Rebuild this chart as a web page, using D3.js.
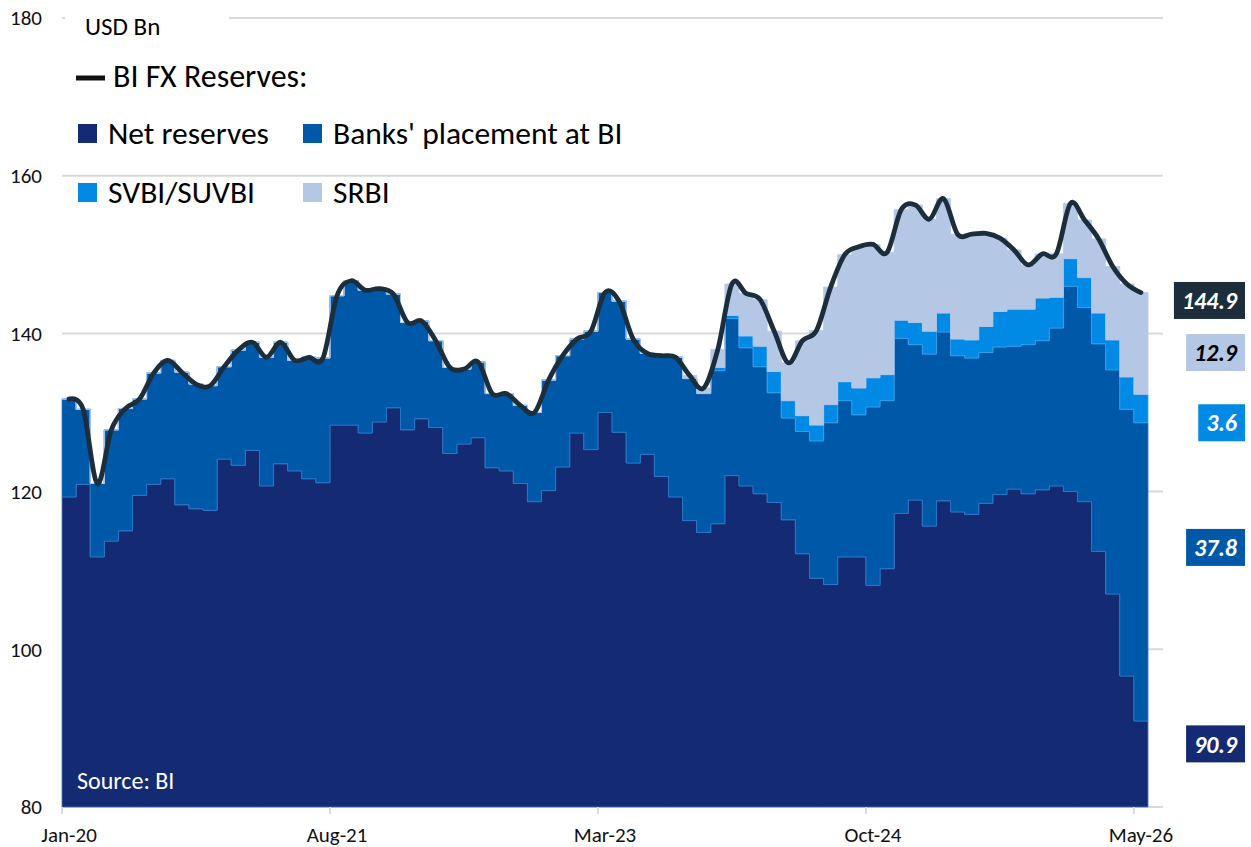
<!DOCTYPE html>
<html>
<head>
<meta charset="UTF-8">
<title>BI FX Reserves</title>
<script src="https://cdn.jsdelivr.net/npm/d3@7"></script>
<style>
    body { margin: 0; background: #fff; }
    svg text { font-family: Carlito, Lato, sans-serif; }
</style>
</head>
<body>
<script>
// monthly, Jan-20 .. May-26 (USD bn)
const net = [119.3,120.9,111.7,113.7,115.0,119.5,120.9,121.6,118.3,117.8,
             117.6,124.1,123.3,125.2,120.7,123.5,122.6,121.6,121.1,128.4,
             128.4,127.4,128.8,130.6,127.8,129.2,128.1,124.8,126.0,126.8,
             123.0,122.6,121.0,118.7,120.1,123.1,127.4,125.3,130.0,127.5,
             123.6,124.7,121.9,119.3,116.3,114.8,115.9,122.0,120.7,119.7,
             118.6,116.4,112.1,109.0,108.2,111.7,111.7,108.1,110.2,117.2,
             118.9,115.6,118.8,117.4,117.1,118.5,119.6,120.3,119.7,120.2,
             120.7,120.0,118.7,112.4,107.0,96.6,90.9];
const banks = [12.4,9.5,9.3,14.1,15.5,12.2,14.1,15.0,16.8,15.8,
               15.8,11.7,14.6,13.7,16.3,15.4,14.0,15.4,15.8,16.4,
               18.3,18.1,16.9,14.4,13.6,12.4,11.0,10.9,9.5,9.6,
               9.4,9.8,9.9,11.3,14.0,14.1,11.9,15.0,15.2,16.6,
               15.7,12.8,15.3,17.7,18.0,17.6,19.4,19.9,17.5,16.1,
               13.9,12.9,15.5,17.4,20.5,19.8,18.0,22.6,21.3,22.2,
               19.7,21.8,21.4,19.8,19.8,19.1,18.7,18.1,18.9,18.9,
               20.0,26.0,24.6,26.3,28.4,33.8,37.8];
const svbi = [0,0,0,0,0,0,0,0,0,0,
              0,0,0,0,0,0,0,0,0,0,
              0,0,0,0,0,0,0,0,0,0,
              0,0,0,0,0,0,0,0,0,0,
              0,0,0,0,0,0,0.4,0.4,1.5,2.6,
              2.7,2.2,2.0,2.0,2.3,2.4,3.4,3.7,3.3,2.3,
              2.8,2.9,2.4,2.1,2.3,3.3,4.5,4.7,4.5,5.4,
              3.9,3.5,3.8,3.9,3.8,4.1,3.6];
const srbi = [0,0,0,0,0,0,0,0,0,0,
              0,0,0,0,0,0,0,0,0,0,
              0,0,0,0,0,0,0,0,0,0,
              0,0,0,0,0,0,0,0,0,0,
              0,0,0,0,0.4,0.7,2.3,4.0,5.4,5.9,
              5.1,4.8,9.5,12.0,14.9,16.1,17.9,16.9,15.5,14.0,
              14.9,14.2,14.5,13.3,13.4,11.8,9.3,7.5,5.6,5.6,
              5.5,7.0,7.3,9.4,9.3,11.8,12.9];

const tickIndex = [0, 19, 38, 57, 76];
const tickLabels = ["Jan-20", "Aug-21", "Mar-23", "Oct-24", "May-26"];
const yTicks = [80, 100, 120, 140, 160, 180];

const keys = ["net", "banks", "svbi", "srbi"];
const names = ["Net reserves", "Banks' placement at BI", "SVBI/SUVBI", "SRBI"];
const colors = {net: "#142a73", banks: "#0059a8", svbi: "#0089e5", srbi: "#b4c8e6"};
const edge = {net: "#4a74ba", banks: "#2a78cc", svbi: "#3fa2ee", srbi: "#b4c8e6"};

// end labels
const endLabels = ["144.9", "12.9", "3.6", "37.8", "90.9"];
const endFill = ["#1c2e3c", "#b4c8e6", "#0089e5", "#0059a8", "#142a73"];
const endText = ["#fff", "#000", "#fff", "#fff", "#fff"];
const endAt = [144.2, 137.6, 128.7, 112.9, 88.0];

const W = 1251, H = 847;
const n = net.length;
const rows = net.map((d, i) => ({i: i, net: d, banks: banks[i], svbi: svbi[i], srbi: srbi[i]}));
rows.forEach(r => r.total = r.net + r.banks + r.svbi + r.srbi);

const x = d3.scaleLinear().domain([0, n]).range([62, 1148]);
const y = d3.scaleLinear().domain([80, 180]).range([807, 18]).clamp(true);
const gridRight = 1163;

const svg = d3.select("body").append("svg").attr("width", W).attr("height", H);

// grid
svg.append("g").selectAll("line").data(yTicks).join("line")
    .attr("x1", 62).attr("x2", gridRight)
    .attr("y1", d => y(d)).attr("y2", d => y(d))
    .attr("stroke", "#d9d9d9").attr("stroke-width", 2);

svg.append("g").selectAll("text").data(yTicks).join("text")
    .attr("x", 42).attr("y", d => y(d)).attr("dy", "0.35em")
    .attr("text-anchor", "end").attr("font-size", 21).attr("fill", "#111")
    .text(d => d);

// stacked step areas
const series = d3.stack().keys(keys)(rows);
const area = d3.area()
    .curve(d3.curveStepAfter)
    .x((d, j) => x(j))
    .y0(d => y(d[0])).y1(d => y(d[1]));

series.forEach(s => {
    const pts = s.map(d => d);
    pts.push(s[s.length - 1]); // close last month
    svg.append("path").datum(pts)
        .attr("d", area)
        .attr("fill", colors[s.key])
        .attr("stroke", edge[s.key]).attr("stroke-width", 0.8);
});

// ticks on x
svg.append("g").selectAll("line").data(tickIndex).join("line")
    .attr("x1", d => x(d)).attr("x2", d => x(d))
    .attr("y1", y(80)).attr("y2", y(80) + 7)
    .attr("stroke", "#d9d9d9").attr("stroke-width", 2);

svg.append("g").selectAll("text").data(tickIndex).join("text")
    .attr("x", d => x(d + 0.5)).attr("y", 842)
    .attr("text-anchor", "middle").attr("font-size", 21).attr("fill", "#111")
    .text((d, i) => tickLabels[i]);

// reserves line
const line = d3.line()
    .curve(d3.curveCatmullRom.alpha(0))
    .x(d => x(d.i + 0.5)).y(d => y(d.total));
svg.append("path").datum(rows)
    .attr("d", line)
    .attr("fill", "none").attr("stroke", "#1c2e3c")
    .attr("stroke-width", 4.8).attr("stroke-linecap", "round").attr("stroke-linejoin", "round");

// end labels
endLabels.forEach((t, i) => {
    const g = svg.append("g");
    const txt = g.append("text")
        .attr("y", y(endAt[i])).attr("dy", "0.36em")
        .attr("font-size", 24).attr("font-weight", "bold").attr("font-style", "italic")
        .attr("fill", endText[i]).attr("text-anchor", "end")
        .attr("x", 1237)
        .text(t);
    const w = txt.node().getComputedTextLength();
    g.insert("rect", "text")
        .attr("x", 1245 - w - 16).attr("width", w + 16)
        .attr("y", y(endAt[i]) - 18.5).attr("height", 37)
        .attr("fill", endFill[i]);
});

// source
svg.append("text").attr("x", 77).attr("y", 789)
    .attr("font-size", 24).attr("fill", "#fff").text("Source: BI");

// title box & legend
svg.append("rect").attr("x", 65).attr("y", 4).attr("width", 164).attr("height", 40).attr("fill", "#fff");
svg.append("text").attr("x", 85).attr("y", 35).attr("font-size", 25).attr("fill", "#000").text("USD Bn");

svg.append("line").attr("x1", 76).attr("x2", 105).attr("y1", 78).attr("y2", 78)
    .attr("stroke", "#111").attr("stroke-width", 5);
svg.append("text").attr("x", 113).attr("y", 87).attr("font-size", 32).attr("fill", "#000").text("BI FX Reserves:");

const legX = [78, 303, 78, 303];
const legY = [124, 124, 183, 183];
keys.forEach((k, i) => {
    svg.append("rect").attr("x", legX[i]).attr("y", legY[i]).attr("width", 19).attr("height", 19)
        .attr("fill", colors[k]);
    svg.append("text").attr("x", legX[i] + 30).attr("y", legY[i] + 19.5)
        .attr("font-size", 31.5).attr("fill", "#000").text(names[i]);
});
</script>
</body>
</html>
